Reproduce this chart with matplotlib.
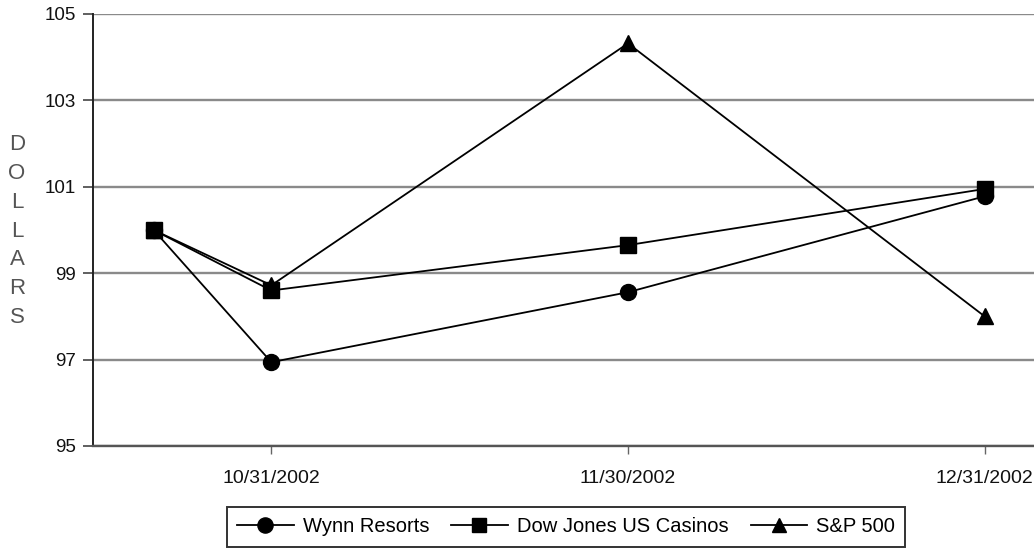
#!/usr/bin/env python3
# -*- coding: utf-8 -*-
"""Wynn Resorts vs Dow Jones US Casinos vs S&P 500 (value of $100 invested)."""

import matplotlib
matplotlib.use("Agg")
import matplotlib.pyplot as plt

plt.rcParams["font.family"] = ["Liberation Sans", "DejaVu Sans"]

# category positions: IPO start point, then month ends
x_pos = [-0.33, 0, 1, 2]
tick_pos = [0, 1, 2]
tick_labels = ["10/31/2002", "11/30/2002", "12/31/2002"]

wynn = [100.0, 96.94, 98.56, 100.78]
dow_casinos = [100.0, 98.60, 99.65, 100.95]
sp500 = [100.0, 98.72, 104.32, 98.00]

y_ticks = [95, 97, 99, 101, 103, 105]


def main():
    fig = plt.figure(figsize=(10.34, 5.51), dpi=100)
    # axes run past the right edge of the figure like the original crop
    ax = fig.add_axes([93 / 1034, 1 - 446 / 551, 1070 / 1034, 432 / 551])

    ax.set_xlim(-0.5, 2.5)
    ax.set_ylim(95, 105)
    ax.set_yticks(y_ticks)
    ax.set_xticks(tick_pos)
    ax.set_xticklabels(tick_labels)

    ax.yaxis.grid(True, color="#8a8a8a", linewidth=1.7)
    ax.set_axisbelow(True)
    for side in ("top", "right"):
        ax.spines[side].set_visible(False)
    ax.spines["left"].set_color("#222222")
    ax.spines["left"].set_linewidth(1.4)
    ax.spines["bottom"].set_color("#555555")
    ax.spines["bottom"].set_linewidth(1.7)

    ax.tick_params(axis="y", length=7, width=1.2, color="#444444",
                   labelsize=13.5, pad=5, labelcolor="#111111")
    ax.tick_params(axis="x", length=6, width=1.0, color="#666666",
                   labelsize=14, pad=11, labelcolor="#111111")

    kw = dict(color="black", linewidth=1.3, clip_on=False)
    ax.plot(x_pos, wynn, marker="o", markersize=11.5, label="Wynn Resorts",
            zorder=3, **kw)
    ax.plot(x_pos, dow_casinos, marker="s", markersize=11,
            label="Dow Jones US Casinos", zorder=4, **kw)
    ax.plot(x_pos, sp500, marker="^", markersize=11, label="S&P 500",
            zorder=5, **kw)

    leg = fig.legend(loc="center", bbox_to_anchor=(566 / 1034, 1 - 527 / 551),
                     ncol=3, frameon=True, fancybox=False, fontsize=14.5,
                     handlelength=2.8, handletextpad=0.45, columnspacing=1.1,
                     borderpad=0.5, markerscale=0.95)
    leg.get_frame().set_edgecolor("black")
    leg.get_frame().set_linewidth(1.4)

    fig.text(17 / 1034, 1 - 231 / 551, "D\nO\nL\nL\nA\nR\nS", ha="center",
             va="center", fontsize=16, color="#555555", linespacing=1.48)

    fig.savefig("out.png", dpi=100)
    plt.close(fig)


if __name__ == "__main__":
    main()
